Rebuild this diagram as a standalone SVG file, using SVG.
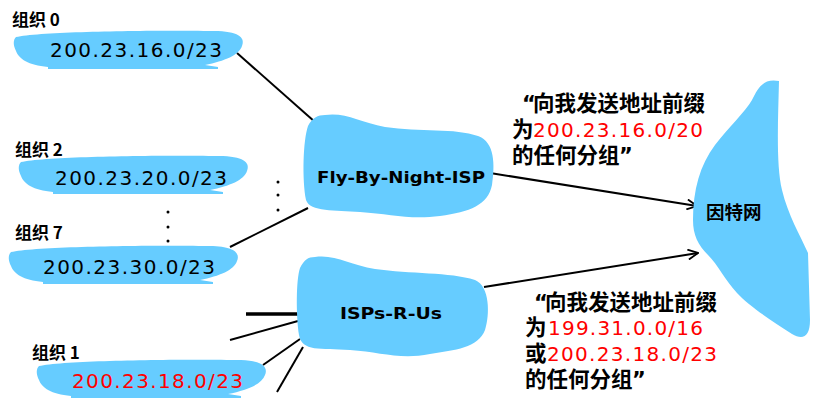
<svg xmlns="http://www.w3.org/2000/svg" xmlns:xlink="http://www.w3.org/1999/xlink" width="830" height="404" viewBox="0 0 830 404">
<style>
.blob{fill:#66CCFF;stroke:none}
.cn{font-family:"Noto Sans CJK SC","DejaVu Sans",sans-serif;font-weight:bold;font-size:21.5px;fill:#000}
.q{font-family:"DejaVu Sans","Liberation Sans",sans-serif;font-weight:bold;font-size:21px;fill:#000}
.lbl{font-family:"Noto Sans CJK SC","DejaVu Sans",sans-serif;font-size:17px;font-weight:bold;fill:#000}
.num{font-family:"DejaVu Sans","Liberation Sans",sans-serif;font-size:20px;font-weight:normal;fill:#000}
.red{fill:#FF0000}
.isp{font-family:"DejaVu Sans","Liberation Sans",sans-serif;font-size:15px;font-weight:bold;fill:#000}
.ln{stroke:#000;stroke-width:2;fill:none}
.dot{fill:#000}
</style>
<defs>
<path id="orgblob" d="M 3,6 C 30,0 150,-1 205,0 C 228,1 232,8 229,15 C 226,24 212,30 192,34 L 205,36 L 205,38 L 35,38 L 35,36 C 15,34 6,28 3,20 C 0,14 0,9 3,6 Z"/>
<marker id="arr" viewBox="0 0 12 12" refX="11" refY="6" markerWidth="12" markerHeight="12" markerUnits="userSpaceOnUse" orient="auto">
<path d="M 1,1 L 11,6 L 1,11" fill="none" stroke="#000" stroke-width="1.8"/>
</marker>
</defs>

<g id="connectors">
<line class="ln" x1="237" y1="53" x2="315" y2="122"/>
<line class="ln" x1="230" y1="247" x2="308" y2="208"/>
<line class="ln" x1="490" y1="173" x2="697" y2="206" marker-end="url(#arr)"/>
<line class="ln" x1="484" y1="287" x2="698" y2="253" marker-end="url(#arr)"/>
<line stroke="#000" stroke-width="3.5" x1="246" y1="314" x2="299" y2="314"/>
<line class="ln" x1="230" y1="340" x2="298" y2="321"/>
<line class="ln" x1="263" y1="365" x2="300" y2="339"/>
<line class="ln" x1="277" y1="392" x2="303" y2="347"/>
<circle class="dot" cx="168" cy="212" r="1.5"/>
<circle class="dot" cx="168" cy="227" r="1.5"/>
<circle class="dot" cx="168" cy="241" r="1.5"/>
<circle class="dot" cx="278" cy="182" r="1.5"/>
<circle class="dot" cx="278" cy="195" r="1.5"/>
<circle class="dot" cx="278" cy="210" r="1.5"/>
</g>

<g id="org0">
<text class="lbl" x="12" y="26">组织 0</text>
<use xlink:href="#orgblob" href="#orgblob" class="blob" transform="translate(13,31)"/>
<text class="num" x="50" y="57" textLength="172" lengthAdjust="spacing">200.23.16.0/23</text>
</g>

<g id="org2">
<text class="lbl" x="15" y="156">组织 2</text>
<use xlink:href="#orgblob" href="#orgblob" class="blob" transform="translate(18,156)"/>
<text class="num" x="55" y="185" textLength="172" lengthAdjust="spacing">200.23.20.0/23</text>
</g>

<g id="org7">
<text class="lbl" x="15" y="239">组织 7</text>
<use xlink:href="#orgblob" href="#orgblob" class="blob" transform="translate(8,246)"/>
<text class="num" x="43" y="274" textLength="172" lengthAdjust="spacing">200.23.30.0/23</text>
</g>

<g id="org1">
<text class="lbl" x="32" y="359">组织 1</text>
<use xlink:href="#orgblob" href="#orgblob" class="blob" transform="translate(36,360)"/>
<text class="num red" x="72" y="388" textLength="171" lengthAdjust="spacing">200.23.18.0/23</text>
</g>

<g id="flybynight">
<path class="blob" d="M 325,115 C 345,112 360,122 385,127 C 420,132 455,128 478,136 C 495,142 495,165 492,185 C 488,205 470,212 440,216 C 410,220 390,214 360,212 C 335,210 310,212 306,200 C 302,180 303,140 308,126 C 312,118 318,115 325,115 Z"/>
<text class="isp" x="317" y="183" textLength="168" lengthAdjust="spacingAndGlyphs">Fly-By-Night-ISP</text>
</g>

<g id="ispsrus">
<path class="blob" d="M 315,257 C 335,254 350,265 375,269 C 410,274 450,272 475,280 C 490,286 490,315 485,330 C 478,348 455,350 430,354 C 400,360 380,352 350,350 C 320,348 302,352 299,335 C 296,315 296,280 300,268 C 304,260 308,257 315,257 Z"/>
<text class="isp" x="340" y="319" textLength="102" lengthAdjust="spacingAndGlyphs">ISPs-R-Us</text>
</g>

<g id="internet">
<path class="blob" d="M 779,81 C 778,120 776,165 782,190 C 788,215 800,235 808,253 L 810,320 C 810,338 802,340 792,334 C 770,320 748,305 737,293 C 725,280 718,265 708,255 C 698,245 693,235 693,220 C 693,190 700,165 715,145 C 728,128 745,112 752,100 C 758,88 763,78 779,81 Z"/>
<text class="cn" x="706" y="219" style="font-size:18.5px">因特网</text>
</g>

<g id="note1">
<text class="q" x="522" y="111">“</text>
<text class="cn" x="533" y="111">向我发送地址前缀</text>
<text class="cn" x="512" y="137">为</text>
<text class="num red" x="533" y="137" textLength="170" lengthAdjust="spacing">200.23.16.0/20</text>
<text class="cn" x="512" y="163">的任何分组</text>
<text class="q" x="619" y="163">”</text>
</g>

<g id="note2">
<text class="q" x="534" y="310">“</text>
<text class="cn" x="545" y="310">向我发送地址前缀</text>
<text class="cn" x="525" y="335">为</text>
<text class="num red" x="548" y="335" textLength="155" lengthAdjust="spacing">199.31.0.0/16</text>
<text class="cn" x="525" y="361">或</text>
<text class="num red" x="547" y="361" textLength="170" lengthAdjust="spacing">200.23.18.0/23</text>
<text class="cn" x="525" y="387">的任何分组</text>
<text class="q" x="632" y="387">”</text>
</g>
</svg>
